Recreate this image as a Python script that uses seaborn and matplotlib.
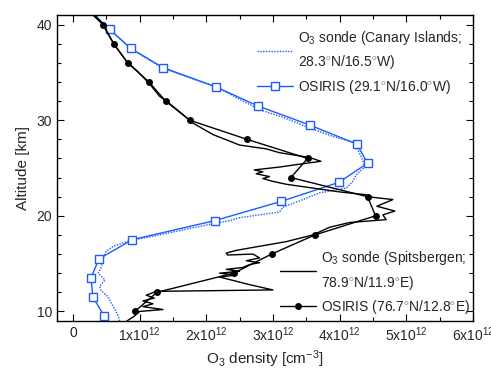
import matplotlib
import matplotlib.pyplot as plt
import seaborn as sns
import pandas as pd
from matplotlib.ticker import MultipleLocator, FuncFormatter

matplotlib.use("agg")

# O3 density in units of 1e12 cm^-3, altitude in km
canary_osiris_alt = [9.5, 11.5, 13.5, 15.5, 17.5, 19.5, 21.5, 23.5, 25.5, 27.5, 29.5, 31.5, 33.5, 35.5, 37.5, 39.5, 41.5]
canary_osiris_o3 = [0.47, 0.30, 0.27, 0.39, 0.89, 2.13, 3.12, 3.99, 4.42, 4.26, 3.55, 2.77, 2.14, 1.35, 0.87, 0.55, 0.25]

canary_sonde_alt = [9.0, 9.5, 10.2, 10.8, 11.5, 12.2, 12.6, 13.3, 14.0, 14.7, 15.5, 16.3, 16.8, 17.4, 18.0, 18.6, 19.1,
                    19.5, 19.8, 20.4, 20.9, 21.7, 22.4, 22.9, 23.6, 24.3, 25.1, 26.1, 27.1, 27.7, 28.3, 29.2, 30.3,
                    31.1, 33.4, 35.4, 37.4, 39.4, 41.0, 42.0]
canary_sonde_o3 = [0.70, 0.68, 0.63, 0.58, 0.53, 0.42, 0.40, 0.48, 0.38, 0.43, 0.45, 0.50, 0.60, 0.85, 1.30, 1.70, 2.05,
                   2.35, 2.50, 3.10, 3.15, 3.45, 3.70, 4.10, 4.20, 4.25, 4.38, 4.33, 4.26, 4.20, 3.90, 3.55, 3.15,
                   2.80, 2.17, 1.36, 0.88, 0.56, 0.30, 0.15]

spits_osiris_alt = [10, 12, 14, 16, 18, 20, 22, 24, 26, 28, 30, 32, 34, 36, 38, 40, 42]
spits_osiris_o3 = [0.93, 1.26, 2.41, 2.98, 3.63, 4.54, 4.42, 3.27, 3.52, 2.61, 1.75, 1.39, 1.14, 0.82, 0.61, 0.45, 0.21]

spits_sonde_alt = [9.0, 9.5, 10.0, 10.2, 10.5, 10.8, 11.1, 11.4, 11.7, 12.1, 12.25, 12.8, 13.6, 13.8, 14.0, 14.2, 14.4,
                   14.6, 14.9, 15.1, 15.3, 15.6, 16.0, 15.9, 16.1, 16.4, 17.3, 18.0, 18.8, 19.3, 19.6, 20.1, 20.5,
                   21.0, 21.7, 22.0, 22.2, 22.5, 22.9, 23.3, 23.6, 23.9, 24.1, 24.4, 24.6, 24.8, 25.1, 25.4, 25.7,
                   26.1, 26.6, 27.0, 27.4, 28.5, 29.7, 30.6, 31.9, 32.5, 33.8, 35.1, 36.2, 37.9, 40.0, 41.0, 42.0]
spits_sonde_o3 = [0.81, 0.92, 1.00, 1.35, 1.05, 1.20, 1.05, 1.22, 1.10, 1.25, 3.00, 2.65, 2.20, 2.45, 2.20, 2.50, 2.30,
                  2.55, 2.65, 2.80, 2.60, 2.80, 2.70, 2.32, 2.30, 2.46, 3.20, 3.60, 3.85, 4.15, 4.70, 4.65, 4.83,
                  4.56, 4.80, 4.42, 4.40, 4.00, 3.60, 3.20, 3.00, 2.85, 2.95, 2.75, 2.85, 2.72, 3.10, 3.40, 3.72,
                  3.55, 3.10, 2.90, 2.50, 2.10, 1.80, 1.65, 1.42, 1.30, 1.15, 0.97, 0.80, 0.62, 0.45, 0.30, 0.20]

blue = "#1f5bff"

sns.set_style("ticks")
plt.rcParams["font.family"] = ["Liberation Sans", "DejaVu Sans"]
plt.rcParams["mathtext.fontset"] = "custom"
plt.rcParams["mathtext.rm"] = "Liberation Sans"
plt.rcParams["mathtext.it"] = "Liberation Sans:italic"

fig = plt.figure(figsize=(4.91, 3.75), dpi=100)
ax = fig.add_axes([0.116, 0.144, 0.847, 0.816])

cs = pd.DataFrame({"x": canary_sonde_o3, "y": canary_sonde_alt})
co = pd.DataFrame({"x": canary_osiris_o3, "y": canary_osiris_alt})
ss = pd.DataFrame({"x": spits_sonde_o3, "y": spits_sonde_alt})
so = pd.DataFrame({"x": spits_osiris_o3, "y": spits_osiris_alt})

sns.lineplot(data=cs, x="x", y="y", sort=False, estimator=None, ax=ax, color=blue, lw=1.0,
             linestyle=(0, (1, 1)), label="O$_3$ sonde (Canary Islands;\n28.3$^{\\circ}$N/16.5$^{\\circ}$W)")
sns.lineplot(data=co, x="x", y="y", sort=False, estimator=None, ax=ax, color=blue, lw=1.0,
             marker="s", markersize=5.5, markerfacecolor="white", markeredgecolor=blue, markeredgewidth=1.0,
             label="OSIRIS (29.1$^{\\circ}$N/16.0$^{\\circ}$W)")
sns.lineplot(data=ss, x="x", y="y", sort=False, estimator=None, ax=ax, color="black", lw=1.0,
             label="O$_3$ sonde (Spitsbergen;\n78.9$^{\\circ}$N/11.9$^{\\circ}$E)")
sns.lineplot(data=so, x="x", y="y", sort=False, estimator=None, ax=ax, color="black", lw=1.0,
             marker="o", markersize=5, markeredgecolor="black", markeredgewidth=0,
             label="OSIRIS (76.7$^{\\circ}$N/12.8$^{\\circ}$E)")

ax.set_xlim(-0.24, 6.0)
ax.set_ylim(9, 41)
ax.xaxis.set_major_locator(MultipleLocator(1))
ax.xaxis.set_minor_locator(MultipleLocator(0.5))
ax.yaxis.set_major_locator(MultipleLocator(10))
ax.yaxis.set_minor_locator(MultipleLocator(2))
ax.xaxis.set_major_formatter(FuncFormatter(lambda v, p: "0" if abs(v) < 1e-9 else "%dx10$^{12}$" % round(v)))
ax.tick_params(which="both", direction="in", top=True, right=True, labelsize=10, width=0.8, color="black")
ax.tick_params(which="major", length=5)
ax.tick_params(which="minor", length=3)
for s in ax.spines.values():
    s.set_linewidth(1.0)
    s.set_color("black")
ax.set_xlabel("O$_3$ density [cm$^{-3}$]", fontsize=11, labelpad=3)
ax.set_ylabel("Altitude [km]", fontsize=11, labelpad=5)

handles, labels = ax.get_legend_handles_labels()
leg1 = ax.legend(handles[:2], labels[:2], loc="upper left", bbox_to_anchor=(0.48, 0.955), frameon=False,
                 fontsize=10, handlelength=2.6, handletextpad=0.35, labelspacing=0.45,
                 borderpad=0, borderaxespad=0)
for t in leg1.get_texts():
    t.set_linespacing(1.5)
ax.add_artist(leg1)
leg2 = ax.legend(handles[2:], labels[2:], loc="upper left", bbox_to_anchor=(0.536, 0.235), frameon=False,
                 fontsize=10, handlelength=2.6, handletextpad=0.35, labelspacing=0.45,
                 borderpad=0, borderaxespad=0)
for t in leg2.get_texts():
    t.set_linespacing(1.5)

fig.savefig("out.png", dpi=100)
